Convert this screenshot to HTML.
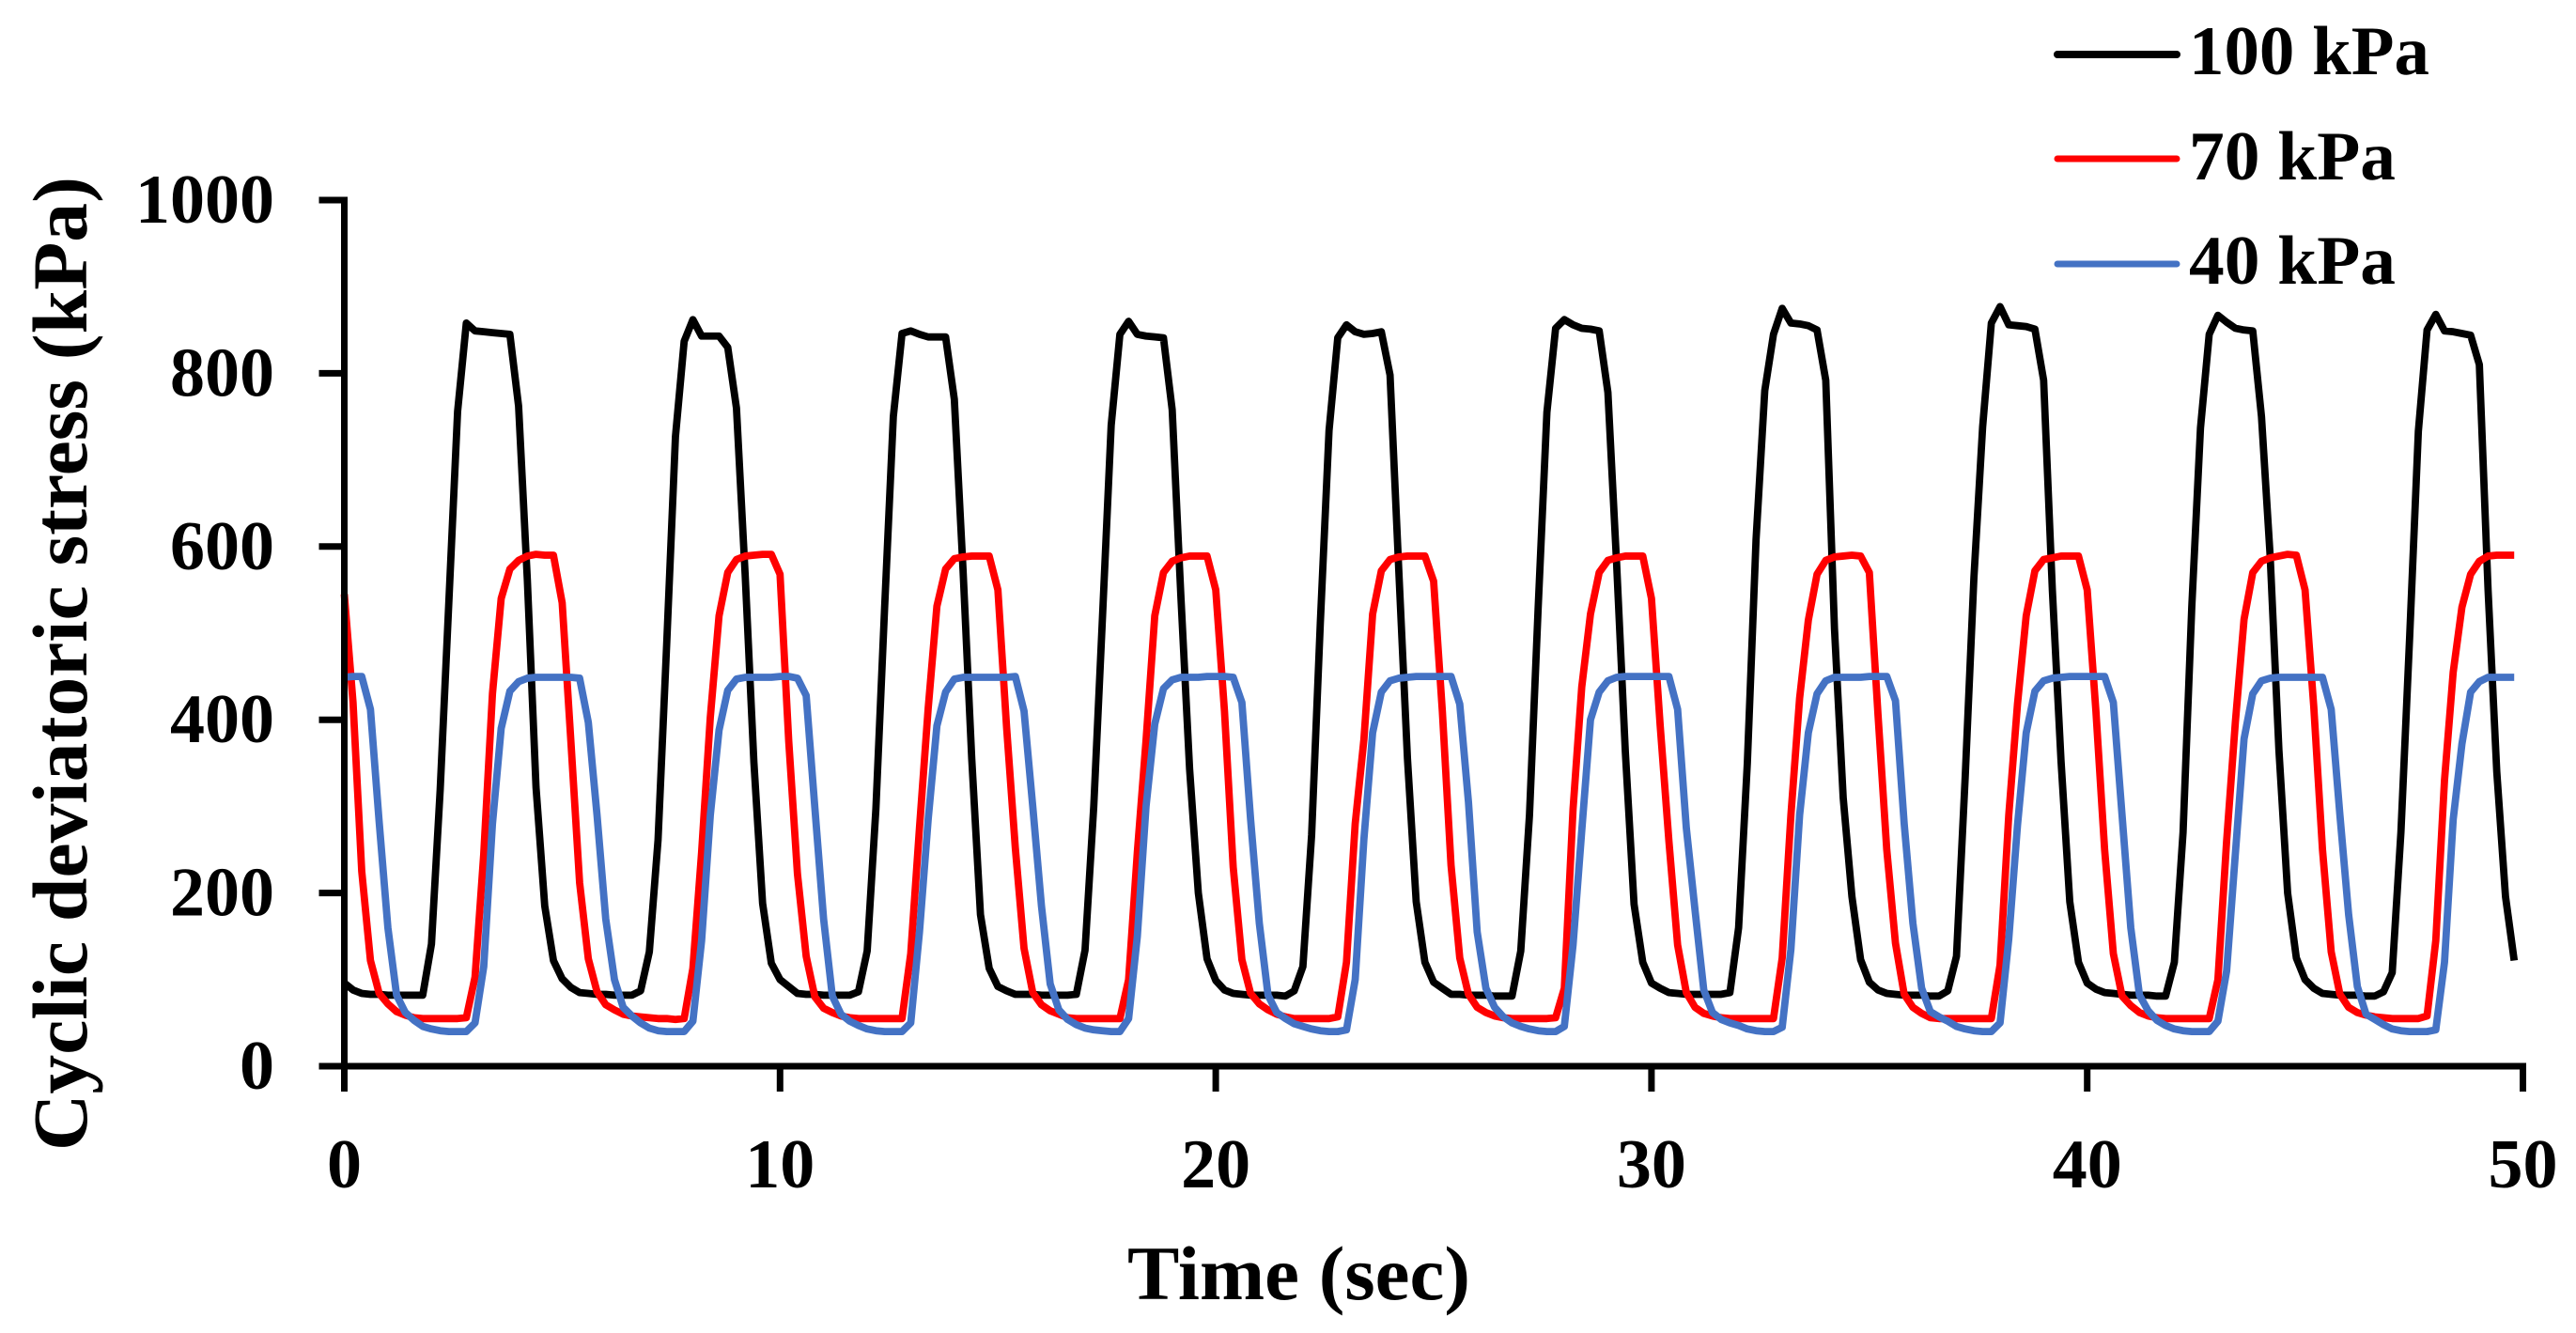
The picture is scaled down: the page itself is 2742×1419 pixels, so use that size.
<!DOCTYPE html>
<html lang="en">
<head>
<meta charset="utf-8">
<title>Cyclic deviatoric stress vs time</title>
<style>
html,body{margin:0;padding:0;background:#fff;}
svg{display:block;}
text{font-family:"Liberation Serif",serif;font-weight:bold;fill:#000;}
</style>
</head>
<body>
<svg id="chart" xmlns="http://www.w3.org/2000/svg" width="2742" height="1419" viewBox="0 0 2742 1419">
  <rect x="0" y="0" width="2742" height="1419" fill="#fff"/>
  <g id="series-layer"></g>
  <g id="axis-layer"></g>
  <text transform="translate(92,1225) rotate(-90)" font-size="83" textLength="1037" lengthAdjust="spacingAndGlyphs">Cyclic deviatoric stress (kPa)</text>
  <text x="1200" y="1383" font-size="82" textLength="365" lengthAdjust="spacingAndGlyphs">Time (sec)</text>
  <g>
    <g>
      <line x1="2190" y1="58" x2="2317" y2="58" stroke="#000" stroke-width="8" stroke-linecap="round"/>
      <text x="2330" y="79" font-size="74" textLength="256" lengthAdjust="spacingAndGlyphs">100 kPa</text>
    </g>
    <g>
      <line x1="2190" y1="169" x2="2317" y2="169" stroke="#ff0000" stroke-width="7" stroke-linecap="round"/>
      <text x="2330" y="191" font-size="74" textLength="220" lengthAdjust="spacingAndGlyphs">70 kPa</text>
    </g>
    <g>
      <line x1="2190" y1="281" x2="2317" y2="281" stroke="#4472c4" stroke-width="7" stroke-linecap="round"/>
      <text x="2330" y="302" font-size="74" textLength="220" lengthAdjust="spacingAndGlyphs">40 kPa</text>
    </g>
  </g>
</svg>
<script>
const sampleInterval = 0.2;
const xTickLabels = [0, 10, 20, 30, 40, 50];
const yTickLabels = [0, 200, 400, 600, 800, 1000];
const series100 = [
96,88,84,83,83,82,82,82,82,82,141,319,537,756,858,849,848,847,846,845,762,562,322,185,122,
101,91,85,84,83,83,82,82,82,87,132,261,489,727,837,862,843,843,843,830,760,567,351,188,119,
100,92,84,83,83,82,82,82,82,86,133,297,529,750,846,849,845,842,842,842,770,573,355,175,113,
92,87,83,83,83,82,82,82,82,83,134,300,518,740,845,860,845,843,842,841,758,542,343,200,124,
99,88,84,83,82,82,82,82,81,87,115,267,512,734,841,856,848,845,846,848,798,573,355,190,120,
97,90,83,83,82,82,82,81,81,81,133,290,530,755,852,862,856,852,851,849,778,580,363,187,120,
96,90,85,84,83,83,83,83,83,85,160,350,608,780,845,875,858,857,855,850,792,505,310,196,123,
97,88,84,83,82,82,82,81,81,87,127,334,564,738,858,877,856,855,854,851,792,550,352,190,120,
96,89,85,84,83,82,82,82,81,81,120,270,530,737,845,867,859,852,850,849,750,588,365,200,125,
100,90,84,83,82,82,82,81,81,86,108,270,495,733,850,868,849,848,846,844,810,550,340,196,122
];
const series70 = [
545,420,225,122,84,72,63,59,56,55,55,55,55,55,56,103,245,430,540,574,584,589,591,590,590,
535,375,212,124,86,71,65,60,58,57,56,55,55,54,55,113,247,403,520,570,585,589,590,591,591,
568,375,222,127,80,67,62,58,56,55,55,55,55,55,55,130,275,413,531,574,586,588,589,589,589,
550,391,252,136,85,71,64,60,56,55,55,55,55,55,55,100,247,376,520,570,583,587,589,589,589,
550,410,230,123,84,72,65,60,57,55,55,55,55,55,57,120,280,377,522,572,585,588,589,589,589,
560,410,232,125,83,68,62,58,56,55,55,55,55,55,56,90,297,438,522,570,584,587,589,589,589,
540,393,260,140,85,68,61,58,56,55,55,55,55,55,55,125,290,425,515,568,584,588,589,590,589,
570,405,250,142,83,68,61,56,55,55,55,55,55,55,55,117,290,418,520,572,585,587,589,589,589,
550,410,250,130,81,70,62,58,56,55,55,55,55,55,55,100,260,397,516,570,583,587,589,591,590,
550,415,250,132,83,68,62,59,57,56,55,55,55,55,58,145,330,455,530,568,583,589,590,590,590
];
const series40 = [
449,450,450,412,282,160,82,62,53,46,43,41,40,40,40,50,115,280,390,433,444,448,449,449,449,
449,449,448,397,290,170,100,68,58,50,44,41,40,40,40,52,145,290,388,434,447,449,449,449,449,
450,450,448,428,298,170,81,60,52,47,43,41,40,40,40,50,155,285,393,432,447,449,449,449,449,
449,449,450,410,300,185,95,65,54,48,44,42,41,40,40,55,150,300,395,436,446,449,449,449,450,
450,450,449,420,285,165,82,62,55,49,46,43,41,40,40,42,100,262,385,432,445,448,449,450,450,
450,450,450,418,305,155,90,68,57,50,46,43,41,40,40,46,140,272,400,432,445,449,450,450,450,
450,450,450,412,275,180,88,62,54,50,47,43,41,40,40,45,135,290,385,430,445,449,449,449,449,
450,450,450,422,280,165,90,63,57,52,46,43,41,40,40,50,147,278,385,433,445,448,449,450,450,
450,450,450,420,290,160,82,64,53,47,43,41,40,40,40,52,110,245,378,430,445,448,449,449,449,
449,449,449,412,290,175,92,60,54,48,43,41,40,40,40,42,120,285,372,432,444,449,449,449,449
];

const NS = 'http://www.w3.org/2000/svg';
const plotLeft = 366.5, plotRight = 2685.5, plotTop = 213, plotBottom = 1135;
const xMax = 50, yMax = 1000;
function xScale(t) { return plotLeft + (t / xMax) * (plotRight - plotLeft); }
function yScale(v) { return plotBottom - (v / yMax) * (plotBottom - plotTop); }
function make(tag, attrs, text) {
  const el = document.createElementNS(NS, tag);
  for (const k in attrs) el.setAttribute(k, attrs[k]);
  if (text !== undefined) el.textContent = text;
  return el;
}
const seriesLayer = document.getElementById('series-layer');
const axisLayer = document.getElementById('axis-layer');

function drawSeries(values, color, name) {
  const pts = values.map((v, i) => xScale(i * sampleInterval).toFixed(2) + ',' + yScale(v).toFixed(2)).join(' ');
  const line = make('polyline', {points: pts, fill: 'none', stroke: color, 'stroke-width': 7.8, 'stroke-linejoin': 'round'});
  
  
  seriesLayer.appendChild(line);
}
drawSeries(series100, '#000000', 'series-line-100-kpa');
drawSeries(series70, '#ff0000', 'series-line-70-kpa');
drawSeries(series40, '#4472c4', 'series-line-40-kpa');

const yAxisLine = make('line', {x1: plotLeft, y1: plotTop - 3.5, x2: plotLeft, y2: plotBottom + 27, stroke: '#000', 'stroke-width': 7});


axisLayer.appendChild(yAxisLine);
const xAxisLine = make('line', {x1: plotLeft - 27, y1: plotBottom, x2: plotRight + 3.5, y2: plotBottom, stroke: '#000', 'stroke-width': 7});


axisLayer.appendChild(xAxisLine);

yTickLabels.forEach(function (v) {
  const tick = make('line', {x1: plotLeft - 27, y1: yScale(v), x2: plotLeft, y2: yScale(v), stroke: '#000', 'stroke-width': 7});
  
  
  axisLayer.appendChild(tick);
  const label = make('text', {x: 292, y: yScale(v) + 24, 'font-size': 74, 'text-anchor': 'end'}, String(v));
  
  
  axisLayer.appendChild(label);
});
xTickLabels.forEach(function (t) {
  const tick = make('line', {x1: xScale(t), y1: plotBottom, x2: xScale(t), y2: plotBottom + 27, stroke: '#000', 'stroke-width': 7});
  
  
  axisLayer.appendChild(tick);
  const label = make('text', {x: xScale(t), y: 1264, 'font-size': 74, 'text-anchor': 'middle'}, String(t));
  
  
  axisLayer.appendChild(label);
});
</script>
</body>
</html>
